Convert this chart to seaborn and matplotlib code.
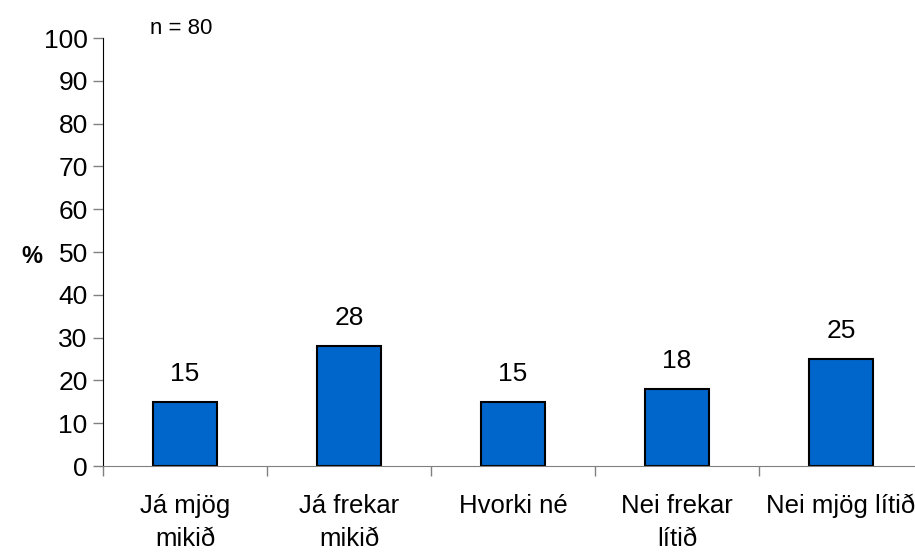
import matplotlib
matplotlib.use('Agg')
import matplotlib.pyplot as plt
import seaborn as sns
import pandas as pd

categories = ['Já mjög\nmikið', 'Já frekar\nmikið', 'Hvorki né', 'Nei frekar\nlítið', 'Nei mjög lítið']
percent = [15, 28, 15, 18, 25]
y_ticks = [0, 10, 20, 30, 40, 50, 60, 70, 80, 90, 100]
n_label = 'n = 80'

sns.set_style('white')
plt.rcParams['font.family'] = ['Liberation Sans', 'DejaVu Sans']
plt.rcParams['text.color'] = 'black'
plt.rcParams['xtick.labelcolor'] = 'black'
plt.rcParams['ytick.labelcolor'] = 'black'

df = pd.DataFrame({'svar': categories, 'pct': percent})

fig = plt.figure(figsize=(9.15, 5.52), dpi=100)
# axes runs a bit past the right edge, as in the original
ax = fig.add_axes([103 / 915, 86 / 552, 820 / 915, 428 / 552])

sns.barplot(data=df, x='svar', y='pct', color='#0066CC', width=0.395,
            edgecolor='black', linewidth=1.5, saturation=1, ax=ax)

ax.set_ylim(0, 100)
ax.set_xlim(-0.5, len(categories) - 0.5)
ax.set_yticks(y_ticks)
ax.tick_params(axis='y', labelsize=19, length=7, width=1, color='#808080', left=True, pad=4)
# ticks between categories on x
ax.set_xticks([i + 0.5 for i in range(-1, len(categories))], minor=True)
ax.tick_params(axis='x', which='minor', length=7, width=1, color='#808080', bottom=True)
ax.tick_params(axis='x', which='major', labelsize=18.5, length=0, pad=20)
for lbl in ax.get_xticklabels():
    lbl.set_linespacing(1.5)

for side in ['top', 'right']:
    ax.spines[side].set_visible(False)
ax.spines['left'].set_color('black')
ax.spines['bottom'].set_color('#808080')
ax.set_xlabel('')
ax.set_ylabel('%', fontsize=17, fontweight='bold', rotation=0, labelpad=16, va='center', color='black')
ax.yaxis.set_label_coords(-0.087, 0.49)

for i, v in enumerate(percent):
    ax.text(i, v + 3.8, str(v), ha='center', va='bottom', fontsize=19)

fig.text(150 / 915, 1 - 28 / 552, n_label, fontsize=16, va='center', ha='left')

plt.savefig('out.png', dpi=100)
plt.close()
